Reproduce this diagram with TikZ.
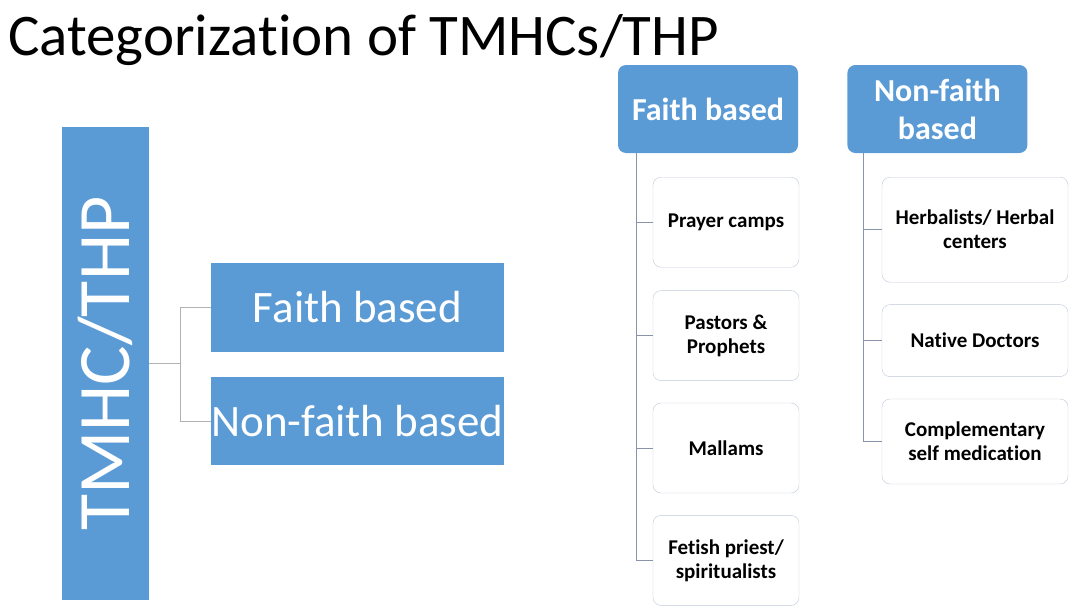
\documentclass[tikz,border=0pt]{standalone}
\usepackage{fontspec}
\setmainfont{Carlito}[Ligatures=NoCommon]
\usetikzlibrary{positioning}
\definecolor{slideblue}{RGB}{91,155,213}
\definecolor{leafline}{RGB}{190,200,215}
\definecolor{treeline}{RGB}{135,148,170}

\begin{document}
\begin{tikzpicture}[x=1pt,y=-1pt,node distance=22pt,
    big box/.style={rectangle,fill=slideblue,text=white,inner sep=0pt},
    head box/.style={rectangle,rounded corners=8pt,fill=slideblue,text=white,
      minimum width=180pt,minimum height=88pt,align=center,
      font=\fontsize{32}{38}\selectfont\bfseries},
    leaf box/.style={rectangle,rounded corners=8pt,draw=leafline,fill=white,
      align=center,inner sep=2pt,font=\fontsize{21}{24}\selectfont\bfseries},
    faith leaf/.style={leaf box,minimum width=146pt,minimum height=90pt},
    other leaf/.style={leaf box,minimum width=186pt},
    tree line/.style={draw=treeline,line width=0.8pt}]
  \useasboundingbox (0,0) rectangle (1070,608);

  \node[anchor=base west,inner sep=0pt,font=\fontsize{59}{64}\selectfont]
    (title) at (8,55) {Categorizat\kern0pt ion of TMHCs/THP};

  % left part
  \node[big box,rotate=90,minimum width=473pt,minimum height=87pt,
    font=\fontsize{74}{80}\selectfont] (tmhc) at (105.5,363.5) {TMHC/THP};
  \node[big box,minimum width=293pt,minimum height=89pt,
    font=\fontsize{45}{50}\selectfont] (lfaith) at (357.5,307.5) {Faith based};
  \node[big box,minimum width=293pt,minimum height=88pt,
    font=\fontsize{45}{50}\selectfont,below=25pt of lfaith] (lnonfaith) {Non-faith based};

  \draw[tree line,draw=gray!60] (tmhc.south) -- ++(31,0) coordinate (lfork) |- (lfaith.west);
  \draw[tree line,draw=gray!60] (lfork) |- (lnonfaith.west);

  % right part
  \node[head box] (fhead) at (708,109) {Faith based};
  \node[head box,right=49pt of fhead] (nhead) {Non-faith\\based};

  \node[faith leaf,anchor=north] (prayer) at (726,177) {Prayer camps};
  \node[faith leaf,below=23pt of prayer] (pastors) {Pastors \&\\Prophets};
  \node[faith leaf,below=of pastors] (mallams) {Mallams};
  \node[faith leaf,below=of mallams] (fetish) {Fetish priest/\\spiritualists};

  \node[other leaf,minimum height=105pt,anchor=north] (herbal) at (975,177) {Herbalists/ Herbal\\centers};
  \node[other leaf,minimum height=72pt,below=of herbal] (native) {Native Doctors};
  \node[other leaf,minimum height=85pt,below=of native] (compl) {Complementary\\self medication};

  \coordinate (ftrunk) at ([xshift=19pt]fhead.south west);
  \coordinate (ntrunk) at ([xshift=16pt]nhead.south west);

  \draw[tree line] (ftrunk) |- (prayer.west);
  \draw[tree line] (ftrunk) |- (pastors.west);
  \draw[tree line] (ftrunk) |- (mallams.west);
  \draw[tree line] (ftrunk) |- (fetish.west);

  \draw[tree line] (ntrunk) |- (herbal.west);
  \draw[tree line] (ntrunk) |- (native.west);
  \draw[tree line] (ntrunk) |- (compl.west);
\end{tikzpicture}
\end{document}
